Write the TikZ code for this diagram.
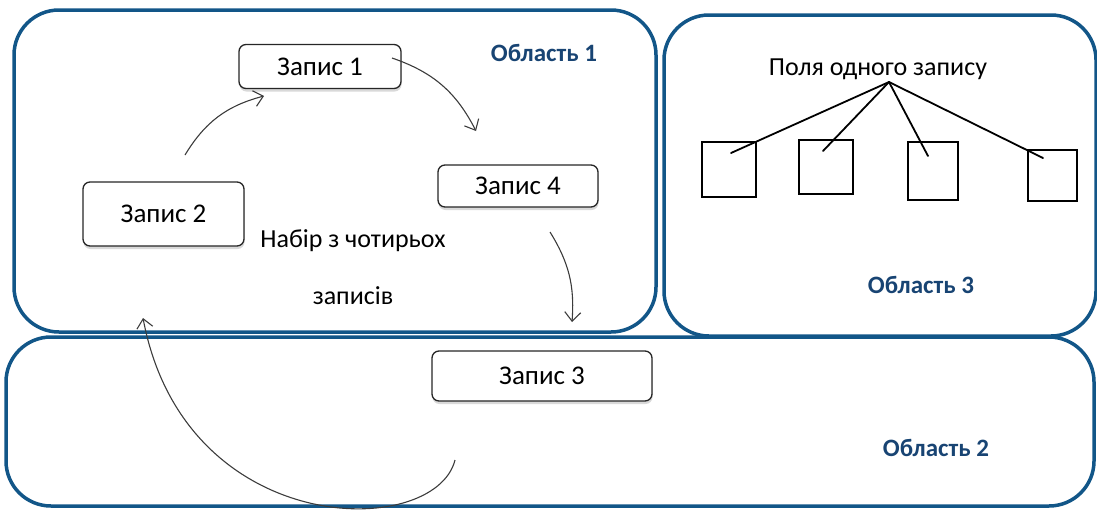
\documentclass[tikz,border=0pt]{standalone}
\usepackage{fontspec}
\setmainfont{Carlito}
\usetikzlibrary{arrows.meta,shadows}
\definecolor{areablue}{RGB}{18,86,136}
\definecolor{labelblue}{RGB}{24,68,115}
\definecolor{arrowgray}{RGB}{60,60,60}
\tikzset{
  area/.style={draw=areablue,line width=3.5pt,rounded corners=45pt},
  arealabel/.style={text=labelblue,font=\fontsize{25}{28}\selectfont\bfseries,inner sep=0pt},
  recbox/.style={draw=black!85,line width=1.3pt,rounded corners=7pt,fill=white,inner sep=0pt,
    font=\fontsize{27}{30}\selectfont,
    drop shadow={shadow xshift=0.5pt,shadow yshift=-3pt,opacity=0.25,fill=black!60}},
  fieldbox/.style={draw=black,line width=1.8pt,inner sep=0pt,fill=white},
  plain/.style={inner sep=0pt,font=\fontsize{26}{29}\selectfont},
  flow/.style={draw=arrowgray,line width=1.1pt,-{Straight Barb[length=9pt,width=16pt,line width=1.1pt]}},
  link/.style={draw=black,line width=1.8pt,line cap=round}
}
\begin{document}
\begin{tikzpicture}[x=1pt,y=-1pt]
\useasboundingbox (0,0) rectangle (1097,509);
% areas
\draw[area] (14,10) rectangle (656,332);
\draw[area] (664,15) rectangle (1096,336);
\draw[area] (6,337) rectangle (1094,506);
\node[arealabel] (l1) at (544,53) {Область 1};
\node[arealabel] (l3) at (921,285) {Область 3};
\node[arealabel] (l2) at (936,448) {Область 2};
% records
\node[recbox,minimum width=162pt,minimum height=44pt] (z1) at (320,66.5) {Запис 1};
\node[recbox,minimum width=160pt,minimum height=42pt] (z4) at (518,186) {Запис 4};
\node[recbox,minimum width=161pt,minimum height=64pt] (z2) at (163.5,214) {Запис 2};
\node[recbox,minimum width=220pt,minimum height=50pt] (z3) at (542,376) {Запис 3};
\node[plain] (t1) at (353,241) {Набір з чотирьох};
\node[plain] (t2) at (353,296) {записів};
% arrows
\coordinate (a1s) at (185,155);
\coordinate (a1e) at (264,96);
\coordinate (a2s) at (392,58);
\coordinate (a2e) at (476,131);
\coordinate (a3s) at (550,232);
\coordinate (a3e) at (572,322);
\coordinate (a4s) at (455,460);
\coordinate (a4e) at (143,318);
\draw[flow] (a1s) to[bend left=22] (a1e);
\draw[flow] (a2s) to[bend left=22] (a2e);
\draw[flow] (a3s) to[bend left=18] (a3e);
\draw[flow] (a4s) .. controls (435,540) and (185,540) .. (a4e);
% area 3 fields
\node[plain] (pf) at (878,69) {Поля одного запису};
\coordinate (hub) at (889,82);
\node[fieldbox,minimum width=54pt,minimum height=55pt] (s1) at (729,169.5) {};
\node[fieldbox,minimum width=54pt,minimum height=54pt] (s2) at (826,167) {};
\node[fieldbox,minimum width=50pt,minimum height=58pt] (s3) at (933,171) {};
\node[fieldbox,minimum width=49pt,minimum height=51pt] (s4) at (1052.5,175.5) {};
\coordinate (e1) at (731,153);
\coordinate (e2) at (823,151);
\coordinate (e3) at (928,156);
\coordinate (e4) at (1043,158);
\draw[link] (hub) -- (e1);
\draw[link] (hub) -- (e2);
\draw[link] (hub) -- (e3);
\draw[link] (hub) -- (e4);
\end{tikzpicture}
\end{document}
